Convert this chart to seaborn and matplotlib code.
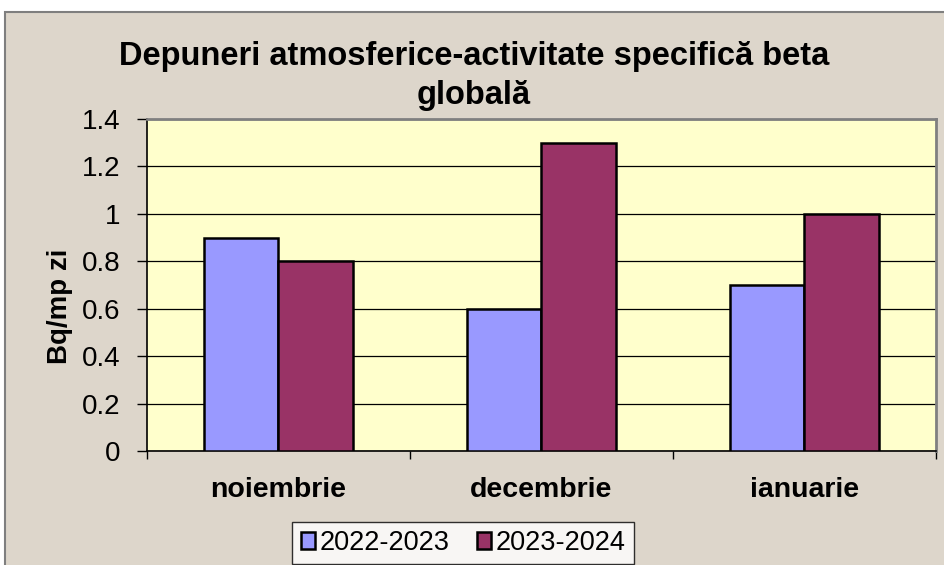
import numpy as np
import pandas as pd
import matplotlib
matplotlib.use("Agg")
import matplotlib.pyplot as plt
from matplotlib.patches import Rectangle
from matplotlib.ticker import FuncFormatter, FixedLocator
import seaborn as sns

# data
luni = ["noiembrie", "decembrie", "ianuarie"]
val_2022_2023 = [0.9, 0.6, 0.7]
val_2023_2024 = [0.8, 1.3, 1.0]
perioade = ["2022-2023", "2023-2024"]
y_ticks = [0, 0.2, 0.4, 0.6, 0.8, 1.0, 1.2, 1.4]

df = pd.DataFrame({
    "luna": luni * 2,
    "valoare": val_2022_2023 + val_2023_2024,
    "perioada": [perioade[0]] * 3 + [perioade[1]] * 3,
})

sns.set_style("white")
plt.rcParams["font.family"] = ["Liberation Sans", "DejaVu Sans"]
plt.rcParams["text.color"] = "black"
plt.rcParams["xtick.color"] = "black"
plt.rcParams["ytick.color"] = "black"

W, H = 945, 565
fig = plt.figure(figsize=(9.45, 5.65), dpi=100, facecolor="white")

# chart area background (Excel-like beige)
fig.patches.append(Rectangle((5 / W, -0.01), 1.0, 1 - 12 / H + 0.01,
                             transform=fig.transFigure, facecolor="#DDD6CB",
                             edgecolor="#7F7F7F", linewidth=1.5, zorder=-10))

ax = fig.add_axes([147 / W, 1 - 451 / H, (936 - 147) / W, (451 - 119) / H])
ax.set_facecolor("#FFFFCC")

sns.barplot(data=df, x="luna", y="valoare", hue="perioada",
            palette=["#9999FF", "#993366"], width=0.57, gap=0,
            edgecolor="black", linewidth=1.8, saturation=1,
            ax=ax, zorder=3)

ax.set_xlim(-0.5, 2.5)
ax.set_ylim(0, 1.4)
ax.set_yticks(y_ticks)
ax.yaxis.set_major_formatter(FuncFormatter(lambda v, p: f"{v:g}"))
ax.grid(axis="y", color="black", linewidth=0.9, zorder=1)
ax.set_axisbelow(True)

ax.set_xlabel("")
ax.set_ylabel("")
ax.tick_params(axis="y", which="major", length=7, width=1, color="black",
               direction="out", pad=12, labelsize=20, left=True)
ax.tick_params(axis="x", which="major", length=0, pad=19, labelsize=20.5)
for lab in ax.get_xticklabels():
    lab.set_fontweight("bold")
ax.xaxis.set_minor_locator(FixedLocator([-0.5, 0.5, 1.5, 2.5]))
ax.tick_params(axis="x", which="minor", length=6, width=1, color="black",
               direction="out", bottom=True)

for side in ["left", "bottom"]:
    ax.spines[side].set_color("black")
    ax.spines[side].set_linewidth(1.2)
for side in ["top", "right"]:
    ax.spines[side].set_color("#808080")
    ax.spines[side].set_linewidth(2)

handles, labels = ax.get_legend_handles_labels()
ax.get_legend().remove()
leg = fig.legend(handles, labels, loc="center", ncol=2,
                 bbox_to_anchor=(463 / W, 1 - 543 / H),
                 frameon=True, fancybox=False, fontsize=19.5,
                 handlelength=0.55, handleheight=0.55, handletextpad=0.15,
                 columnspacing=1.0, borderpad=0.3, borderaxespad=0)
leg.get_frame().set_edgecolor("black")
leg.get_frame().set_linewidth(1)
leg.get_frame().set_facecolor("white")
for h in leg.legend_handles:
    h.set_linewidth(1.8)

fig.text(474 / W, 1 - 76 / H,
         "Depuneri atmosferice-activitate specifică beta\nglobală",
         ha="center", va="center", fontsize=23.5, fontweight="bold",
         linespacing=1.35)
fig.text(60 / W, 1 - 306 / H, "Bq/mp zi", rotation=90, ha="center",
         va="center", fontsize=20, fontweight="bold")

fig.savefig("out.png", dpi=100, facecolor=fig.get_facecolor())
